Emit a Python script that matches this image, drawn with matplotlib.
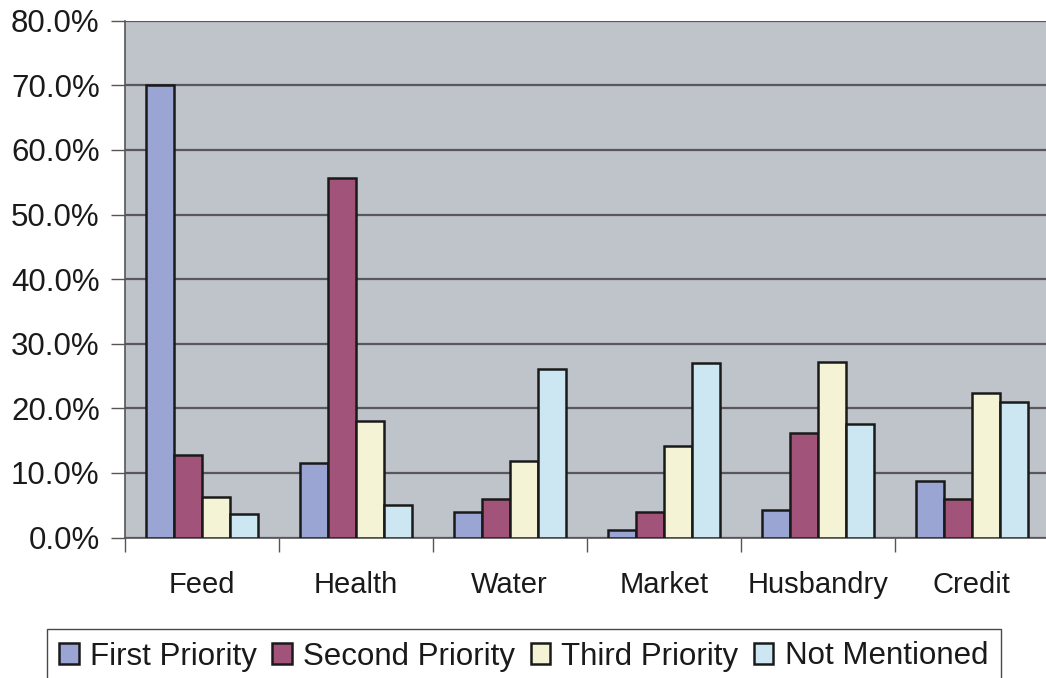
import matplotlib
matplotlib.use("Agg")
import matplotlib.pyplot as plt
import numpy as np
from matplotlib.ticker import FuncFormatter

plt.rcParams['font.family'] = ['Liberation Sans', 'DejaVu Sans']

categories = ["Feed", "Health", "Water", "Market", "Husbandry", "Credit"]
series_names = ["First Priority", "Second Priority", "Third Priority", "Not Mentioned"]
first_priority = [70.0, 11.6, 4.0, 1.2, 4.3, 8.7]
second_priority = [12.8, 55.7, 5.9, 4.0, 16.2, 5.9]
third_priority = [6.2, 18.1, 11.9, 14.1, 27.2, 22.4]
not_mentioned = [3.7, 5.0, 26.1, 27.0, 17.5, 20.9]
yticks = [0, 10, 20, 30, 40, 50, 60, 70, 80]

colors = ["#9aa5d4", "#a1537a", "#f4f3d5", "#cce7f2"]
series = [first_priority, second_priority, third_priority, not_mentioned]

fig = plt.figure(figsize=(10.46, 6.78), dpi=100)
ax = fig.add_axes([124.7 / 1046, 1 - 537.5 / 678, 924 / 1046, (537.5 - 20.7) / 678])
ax.set_facecolor("#bfc3ca")

n = len(series)
bar_w = 28 / 154
x = np.arange(len(categories))
for i, (vals, col, name) in enumerate(zip(series, colors, series_names)):
    offs = (i - (n - 1) / 2) * bar_w
    ax.bar(x + offs, vals, width=bar_w, color=col, edgecolor="#1a1a1a",
           linewidth=1.8, label=name, zorder=3)

ax.set_xlim(-0.5, len(categories) - 0.5)
ax.set_ylim(0, 80)
ax.set_yticks(yticks)
ax.yaxis.set_major_formatter(FuncFormatter(lambda v, p: f"{v:.1f}%"))
ax.grid(axis="y", color="#58585c", linewidth=1.6, zorder=1)
ax.set_axisbelow(True)

ax.set_xticks(x)
ax.set_xticklabels(categories, fontsize=21)
ax.set_xticks(np.arange(-0.5, len(categories), 1), minor=True)
ax.tick_params(axis="x", which="major", length=0, pad=24, labelcolor="#1a1a1a")
ax.tick_params(axis="x", which="minor", length=10, width=1.0, color="#555555", direction="out")
ax.tick_params(axis="y", length=10, width=1.0, color="#555555", labelsize=22.5,
               pad=8, labelcolor="#1a1a1a")

for s in ["top", "right"]:
    ax.spines[s].set_visible(False)
ax.spines["left"].set_color("#555555")
ax.spines["left"].set_linewidth(1.2)
ax.spines["bottom"].set_color("#555555")
ax.spines["bottom"].set_linewidth(1.2)

leg = fig.legend(loc="upper left", bbox_to_anchor=(46.7 / 1046, 1 - 629 / 678),
                 ncol=4, frameon=True, fancybox=False, fontsize=22.5,
                 handlelength=0.62, handleheight=0.62, handletextpad=0.36,
                 columnspacing=0.5, borderpad=0.4, borderaxespad=0)
leg.get_frame().set_edgecolor("#1a1a1a")
leg.get_frame().set_linewidth(1.0)
for t in leg.get_texts():
    t.set_color("#1a1a1a")

fig.savefig("out.png", dpi=100)
